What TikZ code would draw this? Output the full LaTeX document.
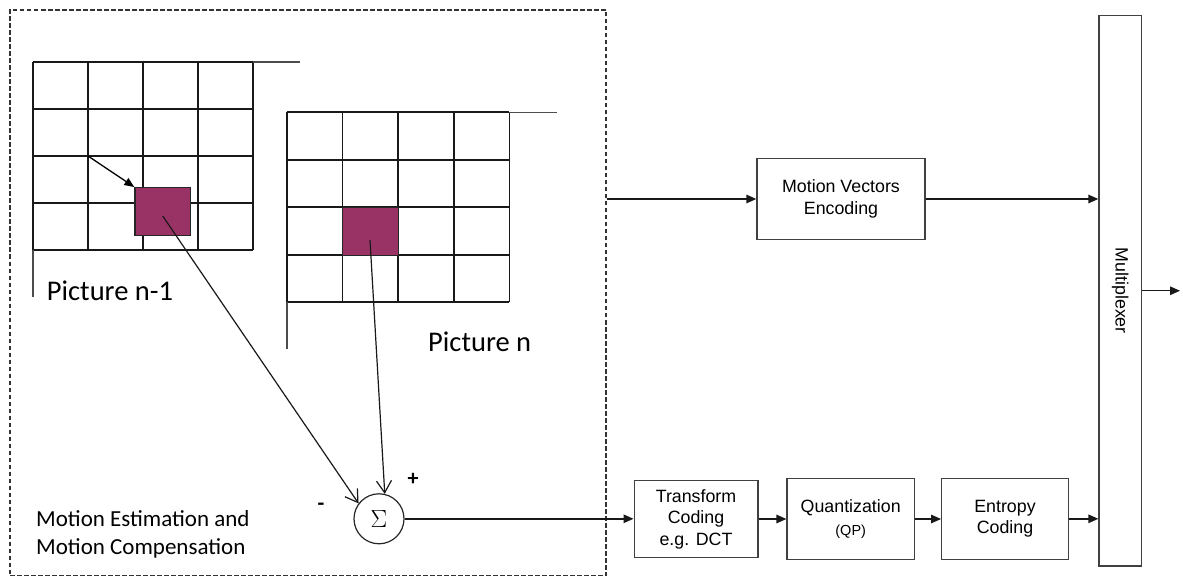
\documentclass[tikz,border=0pt]{standalone}
\usepackage{fontspec}
\setmainfont{Carlito}
\newfontfamily\arialfont{Liberation Sans}
\usetikzlibrary{arrows.meta}
\definecolor{mblock}{HTML}{993366}

\begin{document}
\begin{tikzpicture}[x=1pt,y=-1pt,
  gridline/.style={line width=1.7pt, draw=black!90},
  gridext/.style={line width=1.3pt, draw=black!70},
  block/.style={draw=black!75, line width=1.3pt, fill=white, align=center, inner sep=0pt,
    font=\arialfont\fontsize{17.8}{21.7}\selectfont},
  flow/.style={line width=1.4pt, draw=black!90, -{Triangle[length=10pt,width=8.5pt]}},
  mvline/.style={line width=1.2pt, draw=black!90, -{Straight Barb[length=12pt,width=15pt]}},
  mb/.style={fill=mblock, draw=black!85, line width=1.3pt, inner sep=0pt},
  caption/.style={font=\fontsize{28.5}{30}\selectfont, anchor=base west, inner sep=0pt},
  sign/.style={font=\bfseries\fontsize{22}{22}\selectfont, inner sep=0pt},
]
\useasboundingbox (0,0) rectangle (1183,577);

% motion estimation / compensation frame
\node[draw=black!80, line width=1.2pt, dash pattern=on 4.5pt off 2.5pt,
      minimum width=596, minimum height=565.5, inner sep=0pt] (mec) at (308,292.75) {};

% picture n-1 macroblock grid
\foreach \i in {0,...,4} {
  \draw[gridline] (33+55*\i,62) -- (33+55*\i,250);
  \draw[gridline] (33,62+47*\i) -- (253,62+47*\i);
}
\draw[gridext] (253,62) -- (300,62);
\draw[gridext] (33,250) -- (33,297);

% picture n macroblock grid
\foreach \i in {0,...,4} {
  \draw[gridline] (287+55.6*\i,112.3) -- (287+55.6*\i,302.3);
  \draw[gridline] (287,112.3+47.5*\i) -- (509.4,112.3+47.5*\i);
}
\draw[gridext] (509.4,112.3) -- (557,112.3);
\draw[gridext] (287,302.3) -- (287,349);

% matched blocks
\node[mb, minimum width=55.7, minimum height=47.6] (blkA) at (162.85,211.5) {};
\node[mb, minimum width=55.6, minimum height=47.5] (blkB) at (370.4,231.45) {};

% motion vector inside the reference picture
\coordinate (gA) at (88,156);
\draw[line width=1.3pt, -{Triangle[length=10pt,width=8pt]}] (gA) -- (blkA.north west);

\node[caption] (capA) at (46.7,300.7) {Picture n-1};
\node[caption] (capB) at (428,351) {Picture n};

% difference node
\node[draw=black!85, circle, minimum size=50, inner sep=0pt, line width=1.2pt]
  (sig) at (379,518.8) {\fontsize{30}{30}\selectfont$\Sigma$};
\coordinate (pA) at (162.7,216);
\coordinate (pB) at (370,240);
\draw[mvline] (pA) -- (sig.143);
\draw[mvline] (pB) -- (sig.77);
\node[sign] (plus) at (413,479) {+};
\node[sign] (minus) at (321,507) {-};

\node[font=\fontsize{23}{27.5}\selectfont, align=left, anchor=base west, inner sep=0pt]
  (mecl) at (36,554.2) {Motion Estimation and\\Motion Compensation};

% coding chain
\node[block, minimum width=168, minimum height=81] (mve) at (841,199) {Motion Vectors\\Encoding};
\node[block, minimum width=123.7, minimum height=77] (tfc) at (696,519.2) {Transform\\Coding\\e.g. DCT};
\node[block, minimum width=127.3, minimum height=80.6] (qnt) at (850.7,519) {Quantization\\[1pt]{\fontsize{14.5}{17}\selectfont (QP)}};
\node[block, minimum width=126.6, minimum height=81] (ent) at (1005,518.8) {Entropy\\Coding};
\node[block, minimum width=42.3, minimum height=550.5] (mux) at (1120.15,290.75) {};
\node[rotate=-90, font=\arialfont\fontsize{17.8}{21.7}\selectfont, inner sep=0pt] (muxl) at (mux.center) {Multiplexer};
\coordinate (out) at (1180,290.75);

\draw[flow] (mec.east |- mve.west) -- (mve.west);
\draw[flow] (mve.east) -- (mve.east -| mux.west);
\draw[flow] (sig.east) -- (sig.east -| tfc.west);
\draw[flow] (tfc.east |- qnt.west) -- (qnt.west);
\draw[flow] (qnt.east) -- (qnt.east -| ent.west);
\draw[flow] (ent.east) -- (ent.east -| mux.west);
\draw[flow] (mux.east) -- (out);
\end{tikzpicture}
\end{document}
